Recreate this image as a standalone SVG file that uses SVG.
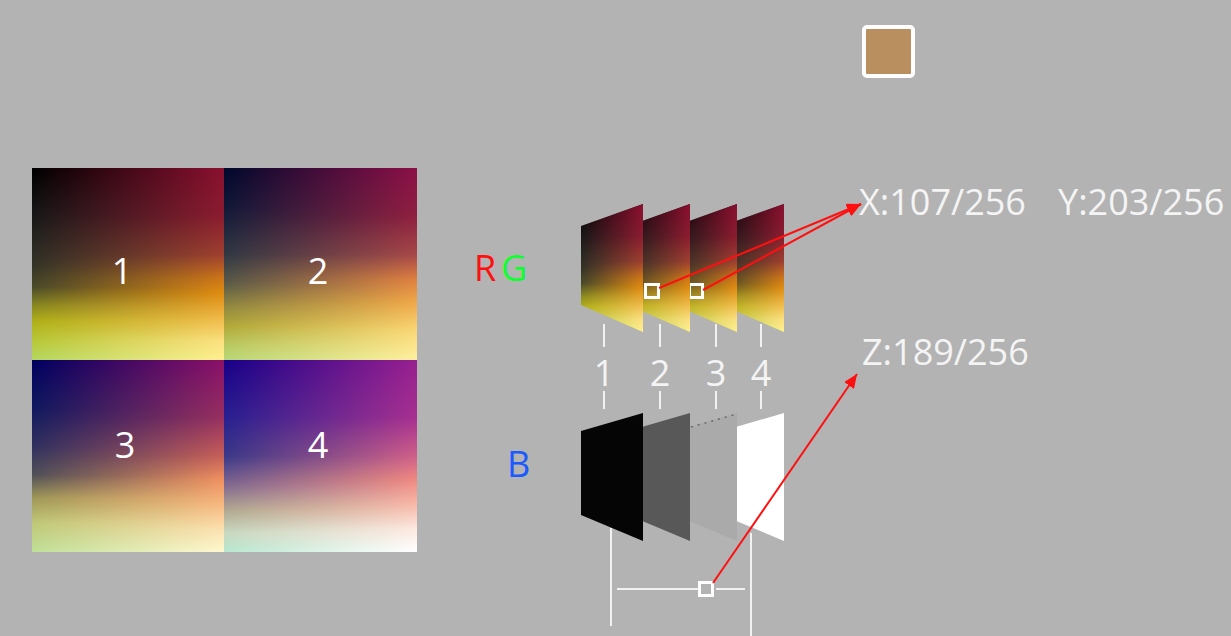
<svg xmlns="http://www.w3.org/2000/svg" width="1231" height="636" viewBox="0 0 1231 636">
<style>
.lbl{font-family:"Open Sans","Liberation Sans",sans-serif;font-size:36px;fill:#f4f4f4}
.num{font-family:"Open Sans","Liberation Sans",sans-serif;font-size:36px;fill:#ffffff;text-anchor:middle}
.tick{stroke:#f2f2f2;stroke-width:2;fill:none}
.sel{stroke:#ffffff;stroke-width:3;fill:none}
.red{stroke:#ff1010;stroke-width:2;fill:none;marker-end:url(#ah)}
</style>
<defs>
<marker id="ah" markerUnits="userSpaceOnUse" markerWidth="16" markerHeight="12" refX="14" refY="6" orient="auto">
<path d="M0,0 L14,6 L0,12 Z" fill="#ff1010"/>
</marker>
<linearGradient id="hm" x1="0" y1="0" x2="1" y2="0"><stop offset="0" stop-color="#000"/><stop offset="1" stop-color="#fff"/></linearGradient>
<mask id="mx" maskContentUnits="objectBoundingBox" x="0" y="0" width="1" height="1"><rect x="0" y="0" width="1" height="1" fill="url(#hm)"/></mask>
<linearGradient id="L1" x1="0" y1="0" x2="0" y2="1"><stop offset="0" stop-color="#000000"/><stop offset="0.25" stop-color="#181818"/><stop offset="0.5" stop-color="#333328"/><stop offset="0.62" stop-color="#4a4a2a"/><stop offset="0.72" stop-color="#8a8a20"/><stop offset="0.8" stop-color="#b0b018"/><stop offset="0.9" stop-color="#b8c838"/><stop offset="1" stop-color="#b4d860"/></linearGradient>
<linearGradient id="R1" x1="0" y1="0" x2="0" y2="1"><stop offset="0" stop-color="#8a1030"/><stop offset="0.25" stop-color="#8c1c30"/><stop offset="0.45" stop-color="#a04030"/><stop offset="0.58" stop-color="#d07818"/><stop offset="0.65" stop-color="#e08c10"/><stop offset="0.78" stop-color="#f0b848"/><stop offset="0.9" stop-color="#fce080"/><stop offset="1" stop-color="#fff090"/></linearGradient>
<linearGradient id="L2" x1="0" y1="0" x2="0" y2="1"><stop offset="0" stop-color="#00082c"/><stop offset="0.2" stop-color="#101838"/><stop offset="0.45" stop-color="#303844"/><stop offset="0.6" stop-color="#5a5a48"/><stop offset="0.72" stop-color="#908840"/><stop offset="0.82" stop-color="#b0a838"/><stop offset="0.92" stop-color="#b8c860"/><stop offset="1" stop-color="#b8d878"/></linearGradient>
<linearGradient id="R2" x1="0" y1="0" x2="0" y2="1"><stop offset="0" stop-color="#8c1048"/><stop offset="0.25" stop-color="#902040"/><stop offset="0.45" stop-color="#a84848"/><stop offset="0.58" stop-color="#e08040"/><stop offset="0.7" stop-color="#f0a848"/><stop offset="0.85" stop-color="#fad878"/><stop offset="1" stop-color="#fff0a0"/></linearGradient>
<linearGradient id="L3" x1="0" y1="0" x2="0" y2="1"><stop offset="0" stop-color="#000060"/><stop offset="0.25" stop-color="#101860"/><stop offset="0.45" stop-color="#303060"/><stop offset="0.6" stop-color="#505058"/><stop offset="0.72" stop-color="#a09858"/><stop offset="0.85" stop-color="#c0c878"/><stop offset="1" stop-color="#c0e098"/></linearGradient>
<linearGradient id="R3" x1="0" y1="0" x2="0" y2="1"><stop offset="0" stop-color="#8a1068"/><stop offset="0.3" stop-color="#983060"/><stop offset="0.5" stop-color="#c86058"/><stop offset="0.62" stop-color="#f09060"/><stop offset="0.75" stop-color="#f8b880"/><stop offset="0.88" stop-color="#fce0b0"/><stop offset="1" stop-color="#fff8d0"/></linearGradient>
<linearGradient id="L4" x1="0" y1="0" x2="0" y2="1"><stop offset="0" stop-color="#180088"/><stop offset="0.3" stop-color="#282090"/><stop offset="0.5" stop-color="#3a3888"/><stop offset="0.65" stop-color="#806890"/><stop offset="0.78" stop-color="#b0a890"/><stop offset="0.9" stop-color="#c8d8c0"/><stop offset="1" stop-color="#b8e8d0"/></linearGradient>
<linearGradient id="R4" x1="0" y1="0" x2="0" y2="1"><stop offset="0" stop-color="#982090"/><stop offset="0.3" stop-color="#a83090"/><stop offset="0.5" stop-color="#d06088"/><stop offset="0.62" stop-color="#f08880"/><stop offset="0.75" stop-color="#f8b8a8"/><stop offset="0.88" stop-color="#fde8e0"/><stop offset="1" stop-color="#ffffff"/></linearGradient>
</defs>
<rect x="0" y="0" width="1231" height="636" fill="#b3b3b3"/>

<g id="quad1">
<rect x="32" y="168" width="192" height="192" fill="url(#L1)"/>
<rect x="32" y="168" width="192" height="192" fill="url(#R1)" mask="url(#mx)"/>
<text class="num" x="122" y="284">1</text>
</g>
<g id="quad2">
<rect x="224" y="168" width="193" height="192" fill="url(#L2)"/>
<rect x="224" y="168" width="193" height="192" fill="url(#R2)" mask="url(#mx)"/>
<text class="num" x="318" y="284">2</text>
</g>
<g id="quad3">
<rect x="32" y="360" width="192" height="192" fill="url(#L3)"/>
<rect x="32" y="360" width="192" height="192" fill="url(#R3)" mask="url(#mx)"/>
<text class="num" x="125" y="458">3</text>
</g>
<g id="quad4">
<rect x="224" y="360" width="193" height="192" fill="url(#L4)"/>
<rect x="224" y="360" width="193" height="192" fill="url(#R4)" mask="url(#mx)"/>
<text class="num" x="318" y="458">4</text>
</g>

<g id="label-rg">
<text class="lbl" x="474" y="281" style="fill:#ff1010">R</text>
<text class="lbl" x="501" y="281" style="fill:#10ff30">G</text>
</g>
<g id="label-b">
<text class="lbl" x="507" y="477" style="fill:#1a5aff">B</text>
</g>

<g id="rg-slice4">
<polygon points="722,226 784,204 784,332 722,305" fill="url(#L1)"/>
<polygon points="722,226 784,204 784,332 722,305" fill="url(#R1)" mask="url(#mx)"/>
</g>
<g id="rg-slice3">
<polygon points="675,226 737,204 737,332 675,305" fill="url(#L1)"/>
<polygon points="675,226 737,204 737,332 675,305" fill="url(#R1)" mask="url(#mx)"/>
<rect class="sel" x="689.5" y="284.5" width="13" height="13"/>
</g>
<g id="rg-slice2">
<polygon points="628,226 690,204 690,332 628,305" fill="url(#L1)"/>
<polygon points="628,226 690,204 690,332 628,305" fill="url(#R1)" mask="url(#mx)"/>
<rect class="sel" x="645.5" y="284.5" width="13" height="13"/>
</g>
<g id="rg-slice1">
<polygon points="581,226 643,204 643,332 581,305" fill="url(#L1)"/>
<polygon points="581,226 643,204 643,332 581,305" fill="url(#R1)" mask="url(#mx)"/>
</g>

<g id="ticks">
<path class="tick" d="M604,324V347M660,324V347M716,324V347M761,324V347M604,391V409M660,391V409M716,391V409M761,391V409"/>
<text class="num" x="604" y="386" style="fill:#f4f4f4">1</text>
<text class="num" x="660" y="386" style="fill:#f4f4f4">2</text>
<text class="num" x="716" y="386" style="fill:#f4f4f4">3</text>
<text class="num" x="761" y="386" style="fill:#f4f4f4">4</text>
</g>

<g id="b-slice4">
<polygon points="722,431 784,413 784,541 722,515" fill="#ffffff"/>
</g>
<g id="b-slice3">
<polygon points="675,431 737,413 737,541 675,515" fill="#aaaaaa"/>
<line x1="691" y1="427" x2="737" y2="414" stroke="#6a6a6a" stroke-width="1.5" stroke-dasharray="2,5"/>
</g>
<g id="b-slice2">
<polygon points="628,431 690,413 690,541 628,515" fill="#585858"/>
</g>
<g id="b-slice1">
<polygon points="581,431 643,413 643,541 581,515" fill="#050505"/>
</g>

<g id="z-bracket">
<path class="tick" d="M611,528V626M751,533V636M617,589H698M716,589H745"/>
<rect class="sel" x="699.5" y="582.5" width="13" height="13"/>
</g>

<g id="swatch">
<rect x="864" y="27" width="49" height="49" rx="3" fill="#ba8f5f" stroke="#ffffff" stroke-width="4"/>
</g>

<g id="coords">
<text class="lbl" x="859" y="215">X:107/256</text>
<text class="lbl" x="1058" y="215">Y:203/256</text>
<text class="lbl" x="862" y="365">Z:189/256</text>
</g>

<g id="connectors">
<line class="red" x1="659" y1="288" x2="861" y2="204"/>
<line class="red" x1="703" y1="290" x2="861" y2="204"/>
<line class="red" x1="713" y1="583" x2="857" y2="374"/>
</g>
</svg>
